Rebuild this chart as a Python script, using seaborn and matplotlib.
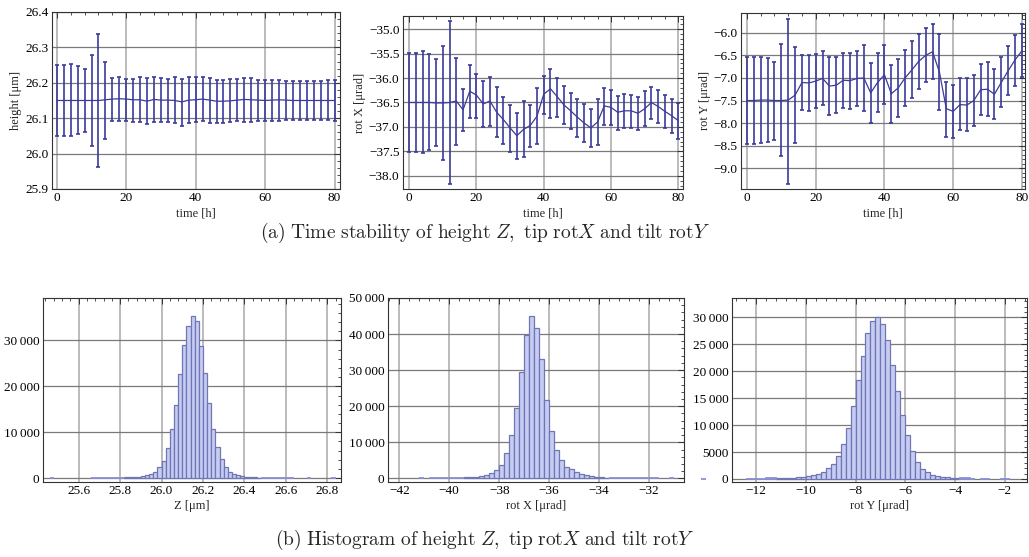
import numpy as np
import pandas as pd
import matplotlib
matplotlib.use("Agg")
import matplotlib.pyplot as plt
import seaborn as sns
from matplotlib.ticker import AutoMinorLocator, FuncFormatter, MultipleLocator

# time series (every 2 h)
time_h = [0, 2, 4, 6, 8, 10, 12, 14, 16, 18, 20, 22, 24, 26, 28, 30, 32, 34, 36, 38, 40,
          42, 44, 46, 48, 50, 52, 54, 56, 58, 60, 62, 64, 66, 68, 70, 72, 74, 76, 78, 80]

height_mean = [26.150, 26.150, 26.150, 26.150, 26.150, 26.150, 26.150, 26.152, 26.154, 26.155,
               26.154, 26.152, 26.152, 26.148, 26.153, 26.151, 26.151, 26.150, 26.146, 26.151,
               26.152, 26.154, 26.151, 26.148, 26.148, 26.149, 26.151, 26.153, 26.152, 26.151,
               26.150, 26.151, 26.152, 26.151, 26.150, 26.150, 26.150, 26.150, 26.150, 26.150, 26.150]
height_low = [26.049, 26.049, 26.049, 26.054, 26.060, 26.022, 25.961, 26.042, 26.093, 26.093,
              26.092, 26.089, 26.088, 26.083, 26.090, 26.088, 26.088, 26.086, 26.079, 26.086,
              26.088, 26.091, 26.086, 26.085, 26.086, 26.088, 26.091, 26.089, 26.089, 26.091,
              26.093, 26.092, 26.093, 26.095, 26.095, 26.095, 26.096, 26.096, 26.096, 26.095, 26.093]
height_high = [26.250, 26.250, 26.252, 26.246, 26.239, 26.278, 26.339, 26.259, 26.213, 26.215,
               26.211, 26.212, 26.216, 26.214, 26.216, 26.213, 26.212, 26.217, 26.211, 26.216,
               26.215, 26.216, 26.213, 26.209, 26.209, 26.210, 26.212, 26.213, 26.213, 26.209,
               26.208, 26.208, 26.209, 26.205, 26.205, 26.205, 26.206, 26.206, 26.206, 26.208, 26.209]

rotx_mean = [-36.50, -36.50, -36.50, -36.50, -36.51, -36.51, -36.50, -36.47, -36.65, -36.27,
             -36.35, -36.53, -36.47, -36.70, -36.85, -37.02, -37.18, -37.05, -36.97, -36.78,
             -36.33, -36.22, -36.38, -36.55, -36.67, -36.80, -36.92, -37.02, -36.90, -36.57,
             -36.60, -36.70, -36.67, -36.67, -36.72, -36.63, -36.50, -36.58, -36.68, -36.77, -36.87]
rotx_low = [-37.51, -37.52, -37.54, -37.47, -37.40, -37.67, -38.16, -37.38, -37.09, -36.81,
            -36.82, -37.00, -36.98, -37.20, -37.34, -37.52, -37.66, -37.62, -37.41, -37.34,
            -36.74, -36.81, -36.79, -36.95, -37.05, -37.20, -37.31, -37.41, -37.37, -36.96,
            -36.96, -37.06, -37.02, -37.02, -37.06, -36.99, -36.84, -36.92, -37.02, -37.13, -37.24]
rotx_high = [-35.49, -35.48, -35.44, -35.51, -35.62, -35.35, -34.84, -35.58, -36.22, -35.73,
             -35.91, -36.07, -35.97, -36.19, -36.38, -36.56, -36.72, -36.47, -36.55, -36.21,
             -35.95, -35.82, -35.99, -36.16, -36.30, -36.43, -36.54, -36.64, -36.42, -36.20,
             -36.25, -36.36, -36.32, -36.34, -36.38, -36.27, -36.19, -36.25, -36.35, -36.42, -36.52]

roty_mean = [-7.50, -7.50, -7.49, -7.49, -7.50, -7.50, -7.49, -7.38, -7.10, -7.11,
             -7.07, -7.01, -7.18, -7.16, -7.05, -7.06, -7.01, -7.00, -7.33, -7.10,
             -6.93, -7.35, -7.22, -7.00, -6.82, -6.63, -6.50, -6.42, -6.87, -7.68,
             -7.74, -7.59, -7.60, -7.50, -7.26, -7.25, -7.36, -7.10, -6.84, -6.60, -6.40]
roty_low = [-8.46, -8.46, -8.45, -8.42, -8.37, -8.74, -9.34, -8.44, -7.70, -7.74,
            -7.67, -7.61, -7.82, -7.78, -7.66, -7.68, -7.63, -7.74, -8.00, -7.76,
            -7.58, -8.00, -7.87, -7.62, -7.44, -7.24, -7.10, -7.02, -7.71, -8.30,
            -8.34, -8.16, -8.18, -8.07, -7.82, -7.84, -7.92, -7.65, -7.38, -7.17, -6.97]
roty_high = [-6.53, -6.54, -6.53, -6.56, -6.64, -6.25, -5.70, -6.31, -6.50, -6.49,
             -6.48, -6.41, -6.54, -6.53, -6.44, -6.45, -6.41, -6.28, -6.67, -6.44,
             -6.28, -6.71, -6.57, -6.38, -6.18, -6.02, -5.90, -5.81, -6.02, -7.08,
             -7.15, -7.00, -7.00, -6.93, -6.69, -6.64, -6.80, -6.53, -6.29, -6.05, -5.80]

# histograms: first bin left edge, bin width, counts of the contiguous block, isolated bins
z_start, z_width = 25.66, 0.02
z_counts = [30, 40, 50, 60, 80, 100, 120, 150, 180, 220, 280, 360, 480, 700, 1000, 1450, 2400,
            3700, 6600, 10700, 16000, 22700, 28900, 33100, 35300, 34100, 28800, 22800, 16300,
            10700, 6700, 4200, 2400, 1450, 950, 650, 450, 330, 250, 200, 160, 130, 100, 80, 60,
            50, 40, 30, 20]
z_outliers = [25.46, 26.70, 26.82]

rx_start, rx_width = -40.8, 0.2
rx_counts = [40, 50, 70, 90, 110, 140, 180, 250, 350, 500, 700, 1000, 1400, 2200,
             3800, 6900, 12000, 19500, 29500, 39700, 45000, 41600, 33000, 21800, 13000, 7800,
             5000, 3100, 2500, 1800, 1200, 900, 600, 400, 300, 230, 180, 140, 110, 90, 70,
             60, 50, 40, 30, 20]
rx_outliers = [-41.2, -31.2]

ry_start, ry_width = -12.4, 0.2
ry_counts = [35, 45, 55, 70, 90, 110, 140, 170, 210, 260, 320, 400, 550, 750, 1000, 1300,
             2000, 2800, 4300, 6500, 9500, 13600, 18300, 22900, 27000, 29400, 30100, 28800,
             25800, 21200, 16400, 11800, 8100, 5200, 3100, 1900, 1200, 750, 550, 400, 300,
             220, 170, 130, 100, 70]
ry_outliers = [-14.2, -3.0, -2.8, -2.2, -2.0]

line_color = "#3b3b9c"
bar_face = "#c7ccf3"
bar_edge = "#6f76b4"
flat_edge = "#8a90d6"

sns.set_theme(style="white")
plt.rcParams["font.family"] = ["Liberation Serif", "DejaVu Serif"]
plt.rcParams["mathtext.fontset"] = "cm"
plt.rcParams["axes.unicode_minus"] = True

fig = plt.figure(figsize=(10.29, 5.57), dpi=100)


def style_frame(ax, xmajor, ymajor, xminor=5, yminor=5):
    ax.xaxis.set_major_locator(MultipleLocator(xmajor))
    ax.yaxis.set_major_locator(MultipleLocator(ymajor))
    ax.xaxis.set_minor_locator(AutoMinorLocator(xminor))
    ax.yaxis.set_minor_locator(AutoMinorLocator(yminor))
    ax.tick_params(which="both", direction="in", top=True, right=True, colors="#333333",
                   labelcolor="black", labelsize=9.5, pad=2.5)
    ax.tick_params(which="major", length=4, width=0.7)
    ax.tick_params(which="minor", length=2, width=0.6)
    ax.grid(True, axis="x", color="#a8a8a8", lw=1.1)
    ax.grid(True, axis="y", color="#7a7a7a", lw=0.9)
    ax.set_axisbelow(True)
    for s in ax.spines.values():
        s.set_color("#333333")
        s.set_linewidth(0.8)


def time_panel(rect, mean, low, high, ylim, ymajor, ylabel, xlim):
    ax = fig.add_axes(rect)
    mean = np.array(mean)
    yerr = [mean - np.array(low), np.array(high) - mean]
    ax.errorbar(time_h, mean, yerr=yerr, fmt="none", ecolor=line_color, elinewidth=1.2,
                capsize=1.6, capthick=1.2)
    sns.lineplot(x=time_h, y=mean, ax=ax, color=line_color, lw=0.9)
    ax.set_xlim(*xlim)
    ax.set_ylim(*ylim)
    style_frame(ax, 20, ymajor)
    ax.set_xlabel("time [h]", fontsize=9, labelpad=2)
    ax.set_ylabel(ylabel, fontsize=9, labelpad=2)
    return ax


def thousands(v, pos):
    v = int(round(v))
    if abs(v) >= 10000:
        return f"{v // 1000}\u2009{v % 1000:03d}"
    return f"{v}"


def hist_panel(rect, start, width, counts, outliers, xlim, ylim, xmajor, ymajor, xlabel):
    ax = fig.add_axes(rect)
    lefts = [start + i * width for i in range(len(counts))]
    df = pd.DataFrame({
        "x": [l + width / 2 for l in lefts] + [o + width / 2 for o in outliers],
        "w": [float(c) for c in counts] + [1.0] * len(outliers),
    })
    lo = min(min(lefts), min(outliers))
    hi = max(max(lefts), max(outliers)) + width
    sns.histplot(data=df, x="x", weights="w", binwidth=width, binrange=(lo, hi), ax=ax,
                 color=bar_face, edgecolor=bar_edge, linewidth=0.9, alpha=1)
    ax.set_xlim(*xlim)
    ax.set_ylim(*ylim)
    flat = 0.004 * (ylim[1] - ylim[0])
    for p in ax.patches:
        h = p.get_height()
        if h == 0:
            p.set_visible(False)
            continue
        if h < flat:
            # near-empty bins show up as a flat bluish dash on the baseline
            p.set_edgecolor(flat_edge)
            p.set_linewidth(1.3)
            p.set_zorder(3)
        if p.get_x() < xlim[0]:
            p.set_clip_on(False)
    style_frame(ax, xmajor, ymajor)
    ax.yaxis.set_major_formatter(FuncFormatter(thousands))
    ax.set_xlabel(xlabel, fontsize=9, labelpad=2)
    ax.set_ylabel("")
    return ax


time_panel([0.0505, 0.6607, 0.280, 0.3178], height_mean, height_low, height_high,
           (25.9, 26.4), 0.1, "height [μm]", (-1.4, 81.6))
time_panel([0.3916, 0.6607, 0.2721, 0.3106], rotx_mean, rotx_low, rotx_high,
           (-38.27, -34.73), 0.5, "rot X [μrad]", (-1.87, 81.4))
time_panel([0.7201, 0.6607, 0.2760, 0.3160], roty_mean, roty_low, roty_high,
           (-9.46, -5.56), 0.5, "rot Y [μrad]", (-1.75, 80.9))

hist_panel([0.0418, 0.1347, 0.2896, 0.3303], z_start, z_width, z_counts, z_outliers,
           (25.428, 26.866), (-800, 39200), 0.2, 10000, "Z [μm]")
hist_panel([0.3771, 0.1347, 0.2877, 0.3303], rx_start, rx_width, rx_counts, rx_outliers,
           (-42.45, -30.6), (-1000, 50000), 2, 10000, "rot X [μrad]")
hist_panel([0.7114, 0.1347, 0.2867, 0.3303], ry_start, ry_width, ry_counts, ry_outliers,
           (-12.97, -1.1), (-560, 33580), 2, 5000, "rot Y [μrad]")

fig.text(0.4715, 0.5815,
         r"$\mathrm{(a)\ Time\ stability\ of\ height\ }Z\mathrm{,\ tip\ rot}X\mathrm{\ and\ tilt\ rot}Y$",
         ha="center", va="center", fontsize=14)
fig.text(0.4715, 0.030,
         r"$\mathrm{(b)\ Histogram\ of\ height\ }Z\mathrm{,\ tip\ rot}X\mathrm{\ and\ tilt\ rot}Y$",
         ha="center", va="center", fontsize=14)

fig.savefig("out.png", dpi=100, facecolor="white")
